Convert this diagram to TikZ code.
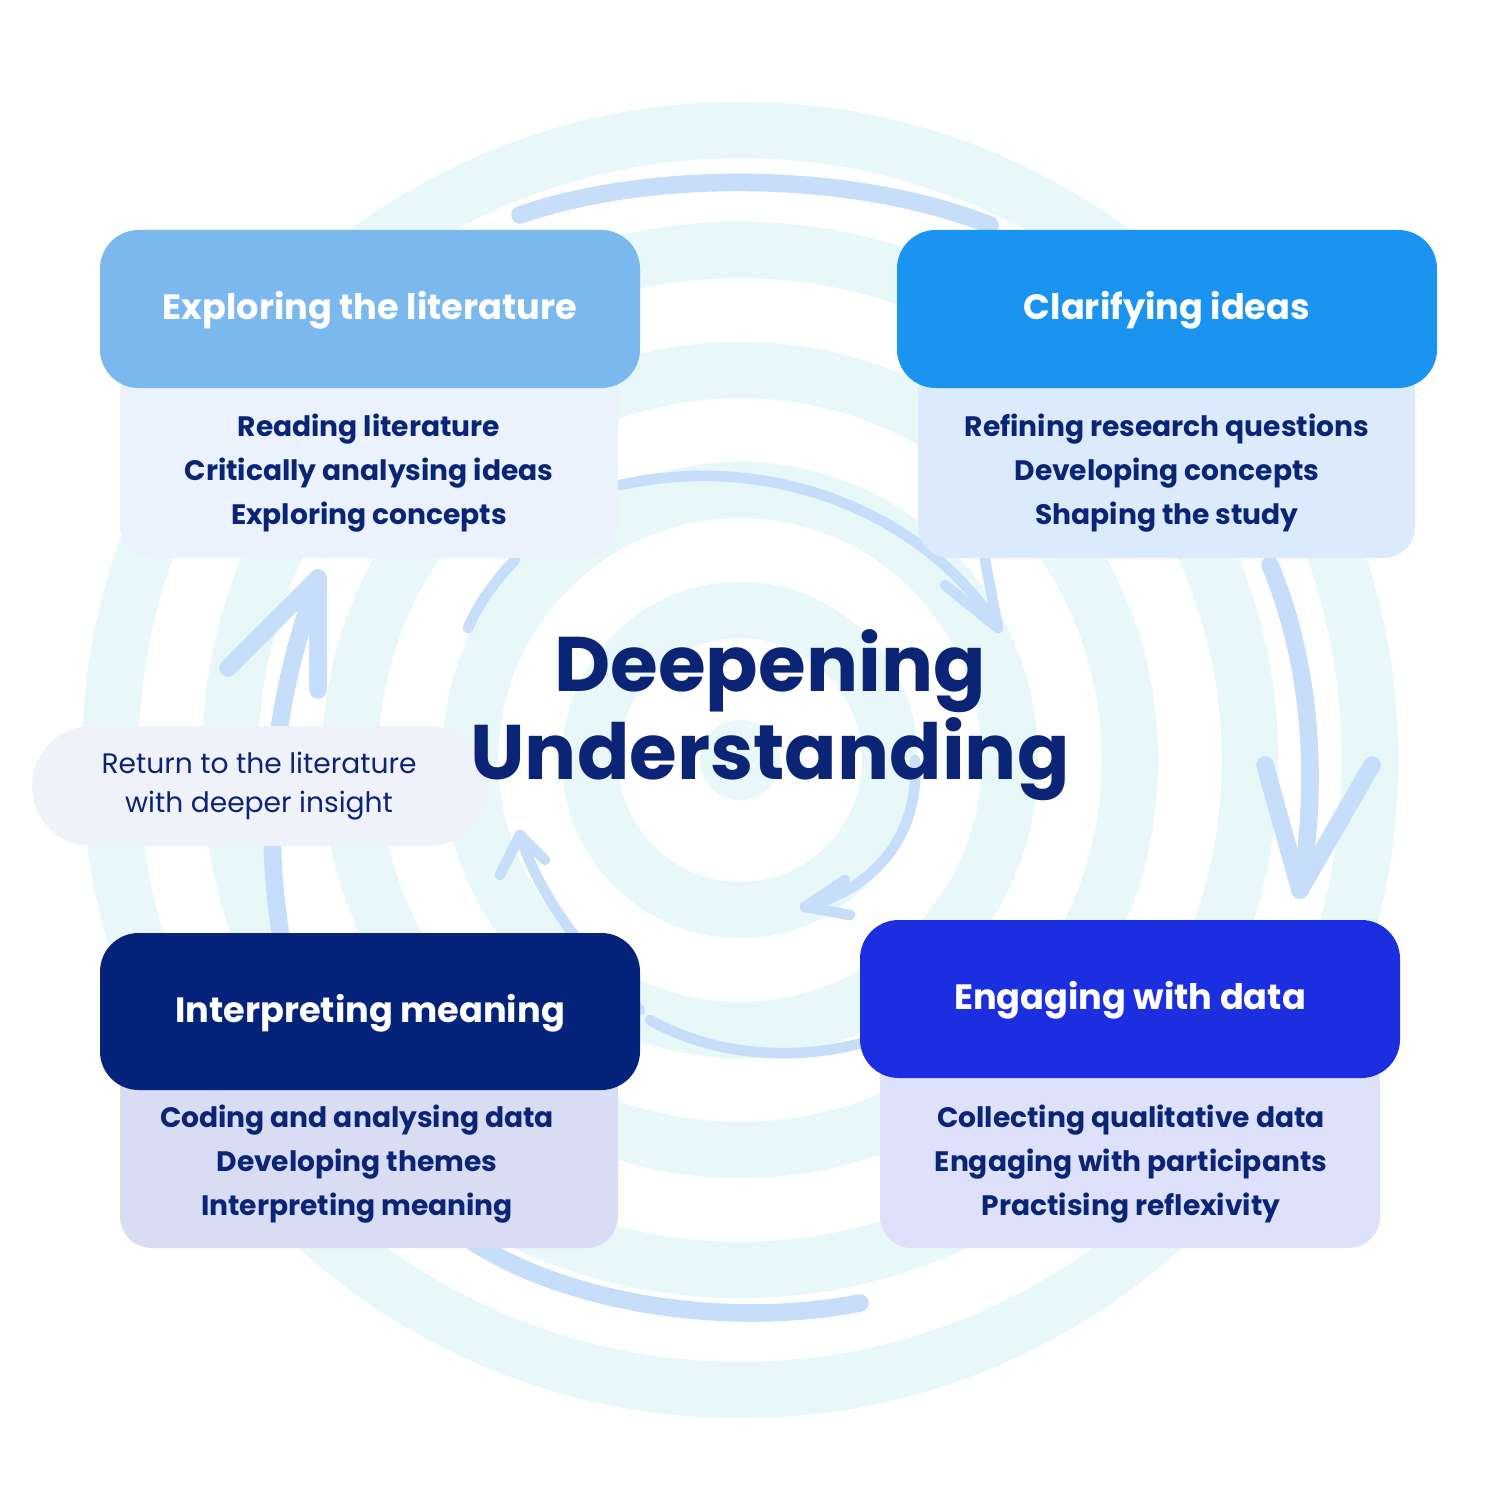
\documentclass[tikz,border=0pt]{standalone}
\usepackage{fontspec}
\setmainfont{Poppins}
\usetikzlibrary{arrows.meta}
\definecolor{ring}{HTML}{E8F7F7}
\definecolor{arr}{HTML}{C6DEF9}
\definecolor{navy}{HTML}{0B2475}
\definecolor{h1}{HTML}{7AB8EE}
\definecolor{b1}{HTML}{EAF3FD}
\definecolor{h2}{HTML}{1A94F0}
\definecolor{b2}{HTML}{DCEBFB}
\definecolor{h3}{HTML}{05237A}
\definecolor{b3}{HTML}{D9DDF3}
\definecolor{h4}{HTML}{1C2FE0}
\definecolor{b4}{HTML}{DDE2FA}
\definecolor{side}{HTML}{F0F2FA}
\tikzset{
 hd/.style={rounded corners=11pt},
 box/.style={rounded corners=9pt},
 htext/.style={text=white,font=\bfseries\fontsize{10}{12}\selectfont},
 btext/.style={text=navy,font=\bfseries\fontsize{8}{12.5}\selectfont,align=center},
 arc/.style={draw=arr,line width=5pt,line cap=round,line join=round},
 thin/.style={draw=arr,line width=3pt,line cap=round,line join=round},
}
\begin{document}
\begin{tikzpicture}[x=0.01cm,y=-0.01cm]
\useasboundingbox (0,0) rectangle (1500,1500);
\fill[white] (0,0) rectangle (1500,1500);
% background rings
\foreach \r in {630,510,390,270,150}{\draw[ring,line width=16pt] (740,760) circle (\r);}
\fill[ring] (740,760) circle (40);
% outer arrows
\draw[arc] (520,215) .. controls (650,170) and (850,170) .. (990,225);
\draw[arc] (1270,565) .. controls (1310,660) and (1320,780) .. (1300,890);
\draw[arc] (1265,765) -- (1300,890) -- (1372,765);
\draw[arc] (860,1303) .. controls (720,1330) and (560,1300) .. (470,1240);
\draw[arc] (280,930) .. controls (260,800) and (280,680) .. (318,580);
\draw[arc] (228,668) -- (318,578) -- (318,690);
% inner arrows
\coordinate (ia) at (620,485);
\coordinate (ib) at (998,628);
\draw[thin] (ia) .. controls (780,450) and (930,520) .. (ib);
\draw[thin] (945,585) -- (ib) -- (985,560);
\draw[thin] (468,628) .. controls (480,600) and (500,575) .. (515,560);
\draw[thin] (915,760) .. controls (920,840) and (870,890) .. (805,907);
\draw[thin] (845,880) -- (805,907) -- (850,915);
\draw[thin] (640,1010) .. controls (590,960) and (540,900) .. (520,835);
\draw[thin] (500,875) -- (520,835) -- (545,860);
\draw[thin] (650,1020) .. controls (730,1065) and (830,1060) .. (900,1030);
% TL
\fill[box,fill=b1] (120,360) rectangle (618,558);
\fill[hd,fill=h1] (100,230) rectangle (640,388);
\node[htext] (t1) at (370,310) {Exploring the literature};
\node[btext] (l1) at (369,473) {Reading literature\\Critically analysing ideas\\Exploring concepts};
% TR
\fill[box,fill=b2] (918,360) rectangle (1415,558);
\fill[hd,fill=h2] (897,230) rectangle (1437,388);
\node[htext] (t2) at (1167,310) {Clarifying ideas};
\node[btext] (l2) at (1167,473) {Refining research questions\\Developing concepts\\Shaping the study};
% BL
\fill[box,fill=b3] (120,1060) rectangle (618,1248);
\fill[hd,fill=h3] (100,933) rectangle (640,1090);
\node[htext] (t3) at (370,1013) {Interpreting meaning};
\node[btext] (l3) at (357,1164) {Coding and analysing data\\Developing themes\\Interpreting meaning};
% BR
\fill[box,fill=b4] (880,1050) rectangle (1380,1248);
\fill[hd,fill=h4] (860,920) rectangle (1400,1078);
\node[htext] (t4) at (1130,1000) {Engaging with data};
\node[btext] (l4) at (1131,1164) {Collecting qualitative data\\Engaging with participants\\Practising reflexivity};
% side
\fill[rounded corners=17pt,fill=side] (32,726) rectangle (488,846);
\node[text=navy,font=\fontsize{8}{11}\selectfont,align=center] (s) at (259,786) {Return to the literature\\with deeper insight};
% center
\node[text=navy,font=\bfseries\fontsize{22}{25}\selectfont,align=center] (c) at (770,715) {Deepening\\Understanding};
\end{tikzpicture}
\end{document}
